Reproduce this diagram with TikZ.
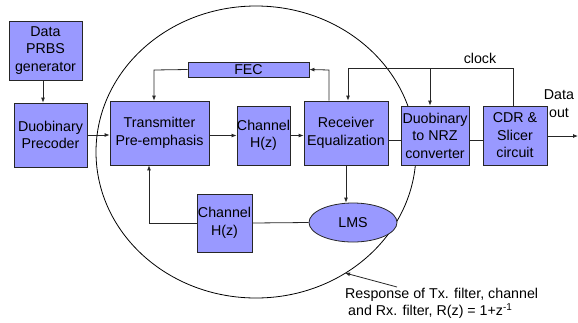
\documentclass[tikz,border=0pt]{standalone}
\usepackage{fontspec}
\setmainfont{Liberation Sans}
\usetikzlibrary{shapes.geometric,arrows.meta,calc}
\begin{document}
\begin{tikzpicture}[x=1bp,y=-1bp,
  blk/.style={draw=black!85, line width=0.8pt, fill=blkfill, inner sep=0pt, align=center, font=\fontsize{14.3}{17.5}\selectfont},
  wire/.style={line width=0.8pt, draw=black!85},
  arr/.style={wire, -{Latex[length=5pt,width=4pt]}},
  lbl/.style={inner sep=0pt, font=\fontsize{14.3}{17.5}\selectfont}]
\definecolor{blkfill}{HTML}{9999FF}
\useasboundingbox (0,0) rectangle (578,322);
% big ellipse
\draw[line width=0.8pt] (256,152) ellipse [x radius=160, y radius=146];
% blocks
\node[blk, minimum width=73bp, minimum height=59bp] (gen) at (45.5,50.5) {Data\\PRBS\\generator};
\node[blk, minimum width=73bp, minimum height=64bp] (pre) at (50.5,135) {Duobinary\\Precoder};
\node[blk, minimum width=99bp, minimum height=64bp] (tx) at (159.5,133) {Transmitter\\Pre-emphasis};
\node[blk, minimum width=53bp, minimum height=59bp] (ch1) at (263.5,135.5) {Channel\\H(z)};
\node[blk, minimum width=84bp, minimum height=64bp] (rx) at (346,133) {Receiver\\Equalization};
\node[blk, minimum width=121bp, minimum height=15bp] (fec) at (248.5,69.5) {FEC};
\node[blk, minimum width=68bp, minimum height=59bp] (nrz) at (435,135.5) {Duobinary\\to NRZ\\converter};
\node[blk, minimum width=64bp, minimum height=59bp] (cdr) at (515,135.5) {CDR \&\\Slicer\\circuit};
\node[blk, minimum width=55bp, minimum height=58bp] (ch2) at (224.5,223) {Channel\\H(z)};
\node[blk, ellipse, minimum width=88bp, minimum height=39bp] (lms) at (353,222.5) {LMS};
% labels
\node[lbl] (clk) at (480,58) {clock};
\node[lbl, align=center] (dout) at (559,103.5) {Data\\out};
\node[lbl, align=left, anchor=north west] (resp) at (345,288) {Response of Tx. filter, channel\\\hspace{3bp}and Rx. filter, R(z) = 1+z\textsuperscript{-1}};
% coordinates
\coordinate (dataend) at (578,136);
\coordinate (fecturn) at (329,70);
\coordinate (txturn) at (154,70);
\coordinate (clkA) at (513,68);
\coordinate (clkB) at (348,68);
\coordinate (clkC) at (430,68);
\coordinate (fbturn) at (149,223);
\coordinate (annS) at (397,287);
\coordinate (annE) at (345,273);
% connectors
\draw[arr] (gen.south -| 43,0) -- (pre.north -| 43,0);
\draw[arr] (pre.east) -- (pre.east -| tx.west);
\draw[arr] (ch1.west -| tx.east) -- (ch1.west);
\draw[arr] (ch1.east) -- (ch1.east -| rx.west);
\draw[arr] (rx.north -| fecturn) -- (fecturn) -- (fec.east);
\draw[arr] (fec.west) -- (txturn) -- (tx.north -| txturn);
\draw[wire] (rx.east |- 0,140) -- (nrz.west |- 0,140);
\draw[wire] (nrz.east |- 0,140) -- (cdr.west |- 0,140);
\draw[arr] (cdr.east |- dataend) -- (dataend);
\draw[arr] (cdr.north -| clkA) -- (clkA) -- (clkB) -- (rx.north -| clkB);
\draw[arr] (clkC) -- (nrz.north -| clkC);
\draw[arr] (rx.south) -- (lms.north -| rx.south);
\draw[wire] (lms.west) -- (ch2.east);
\draw[arr] (ch2.west) -- (fbturn) -- (tx.south -| fbturn);
\draw[arr] (annS) -- (annE);
\end{tikzpicture}
\end{document}
